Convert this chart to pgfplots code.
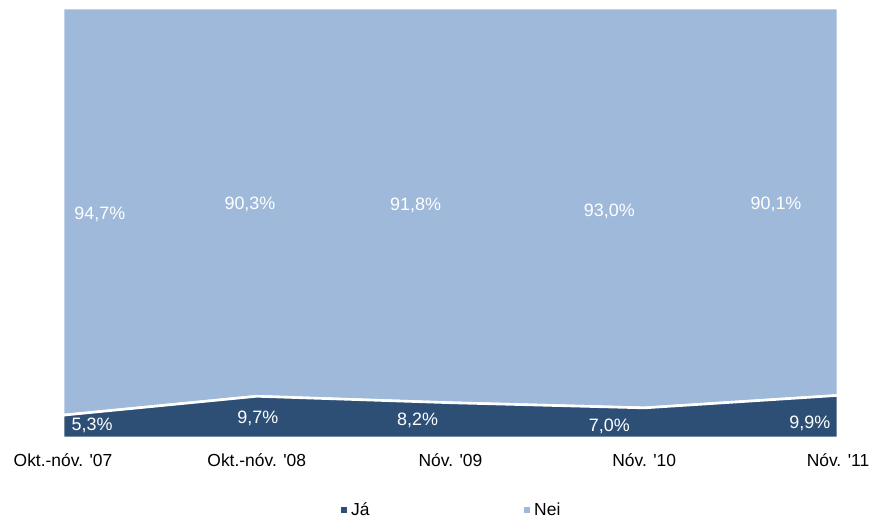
\documentclass[border=0pt]{standalone}
\usepackage{pgfplots}
\pgfplotsset{compat=1.18}
\usepackage{fontspec}
\setmainfont{Liberation Sans}
\definecolor{jacol}{HTML}{2E4F75}
\definecolor{neicol}{HTML}{9FB9DA}
\pgfplotsset{sqleg/.style={legend image code/.code={\fill[##1] (0bp,-4bp) rectangle (8bp,4bp);}}}
\tikzset{lbl/.style={text=white, font=\fontsize{18}{21}\selectfont}}
\newcommand{\q}{\textquotesingle}
\begin{document}
\begin{tikzpicture}
\begin{axis}[
  name=a,
  scale only axis,
  width=775bp, height=430bp,
  xmin=0, xmax=4, ymin=0, ymax=100,
  stack plots=y,
  axis line style={draw=none},
  ytick=\empty,
  xtick={0,1,2,3,4},
  xticklabels={Okt.-nóv. \q07, Okt.-nóv. \q08, Nóv. \q09, Nóv. \q10, Nóv. \q11},
  major tick length=0pt,
  xticklabel style={font=\fontsize{17.5}{20}\selectfont, yshift=-12bp},
  clip=false,
  legend style={at={(0.5,-0.167)}, anchor=center, draw=none, fill=none,
    legend columns=2, font=\fontsize{17.5}{20}\selectfont,
    /tikz/every even column/.append style={column sep=150bp}},
  sqleg,
]
\addplot[fill=jacol, draw=white, line width=2.6bp] coordinates {(0,5.3) (1,9.7) (2,8.2) (3,7.0) (4,9.9)} \closedcycle;
\addlegendentry{Já}
\addplot[fill=neicol, draw=white, line width=2.6bp] coordinates {(0,94.7) (1,90.3) (2,91.8) (3,93.0) (4,90.1)} \closedcycle;
\addlegendentry{Nei}
\addplot[stack plots=false, forget plot, draw=none, mark=none,
  nodes near coords={\pgfplotspointmeta\%}, point meta=explicit symbolic,
  nodes near coords align={center},
  every node near coord/.append style={lbl, anchor=center}]
  table[meta=lab] {
x y lab
0.15 3.0 5,3
1.006 4.65 9,7
1.83 4.2 8,2
2.82 2.8 7,0
3.855 3.3 9,9
0.19 51.9 94,7
0.965 54.4 90,3
1.82 54.2 91,8
2.82 52.8 93,0
3.68 54.4 90,1
};
\end{axis}
\pgfresetboundingbox
\path ([shift={(-63bp,-82bp)}]a.south west) rectangle ([shift={(36bp,8bp)}]a.north east);
\end{tikzpicture}
\end{document}
